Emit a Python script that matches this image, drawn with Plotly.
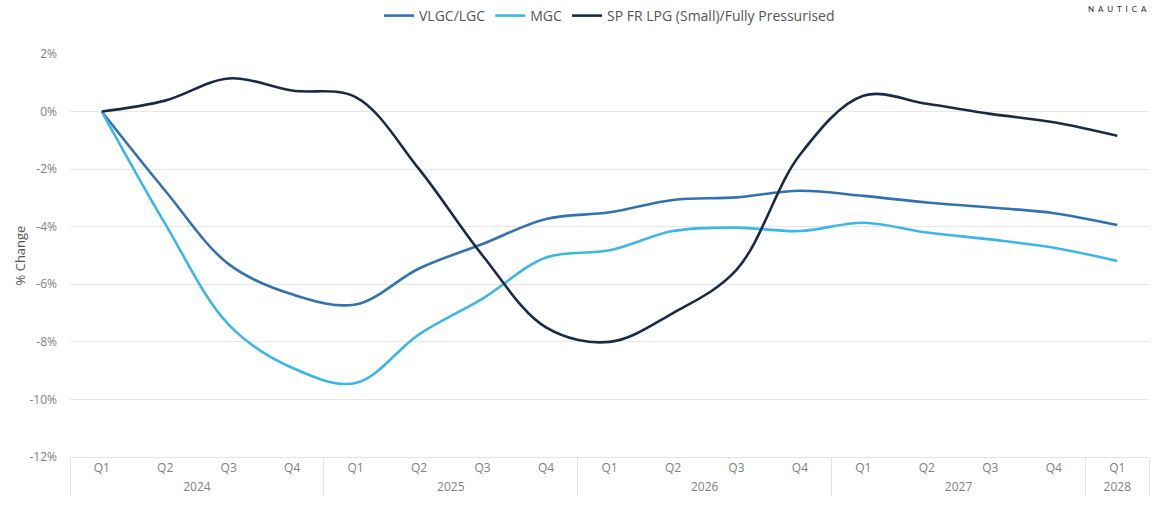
import plotly.graph_objects as go

years = ["2024"] * 4 + ["2025"] * 4 + ["2026"] * 4 + ["2027"] * 4 + ["2028"]
quarters = ["Q1", "Q2", "Q3", "Q4"] * 4 + ["Q1"]

vlgc = [0.0, -2.75, -5.3, -6.35, -6.7, -5.45, -4.6, -3.73, -3.5, -3.07, -2.98, -2.75,
        -2.93, -3.16, -3.33, -3.53, -3.94]
mgc = [0.0, -3.9, -7.4, -8.9, -9.43, -7.74, -6.5, -5.07, -4.82, -4.15, -4.03, -4.15,
       -3.86, -4.2, -4.44, -4.73, -5.19]
spfr = [0.0, 0.38, 1.15, 0.73, 0.5, -2.0, -5.0, -7.5, -8.0, -7.0, -5.5, -1.5,
        0.55, 0.27, -0.08, -0.37, -0.84]

y_tickvals = [-12, -10, -8, -6, -4, -2, 0, 2]
y_ticktext = ["-12%", "-10%", "-8%", "-6%", "-4%", "-2%", "0%", "2%"]

series = [
    ("VLGC/LGC", vlgc, "#3371B5"),
    ("MGC", mgc, "#3DB6E9"),
    ("SP FR LPG (Small)/Fully Pressurised", spfr, "#1B2A47"),
]

fig = go.Figure()
for name, vals, color in series:
    fig.add_trace(go.Scatter(
        x=[years, quarters], y=vals, name=name, mode="lines",
        line=dict(color=color, width=2.6, shape="spline", smoothing=1.0),
    ))

font_family = "'Open Sans', 'Noto Sans', sans-serif"
fig.update_layout(
    width=1152, height=506,
    margin=dict(l=70, r=3, t=54, b=49),
    paper_bgcolor="white", plot_bgcolor="white",
    font=dict(family=font_family, color="#666666", size=12),
    showlegend=True,
    legend=dict(orientation="h", x=0.5, xanchor="center", y=1.0, yanchor="top",
                yref="container", font=dict(size=14, color="#555555"),
                itemwidth=30, traceorder="normal"),
    xaxis=dict(
        type="multicategory", range=[-0.5, 16.5], showgrid=False, showline=True,
        linecolor="#e3e3e3", linewidth=1, ticks="",
        showdividers=True, dividercolor="#e3e3e3",
        dividerwidth=1, tickfont=dict(size=12, color="#808080"),
    ),
    yaxis=dict(
        range=[-12, 2], tickvals=y_tickvals, ticktext=y_ticktext, showgrid=True,
        gridcolor="#e8e8e8", gridwidth=1, zeroline=False, showline=False,
        ticks="", ticklabelstandoff=12,
        tickfont=dict(size=12, color="#808080"),
        title=dict(text="% Change", font=dict(size=13, color="#555555"), standoff=0),
    ),
)

fig.add_annotation(
    text="N  A  U  T  I  C  A", xref="paper", yref="paper", x=1.0, xanchor="right",
    y=1.13, yanchor="top", showarrow=False,
    font=dict(size=8, color="#1B2A47", family="Lato, sans-serif"),
)

fig.write_html("out.html")
